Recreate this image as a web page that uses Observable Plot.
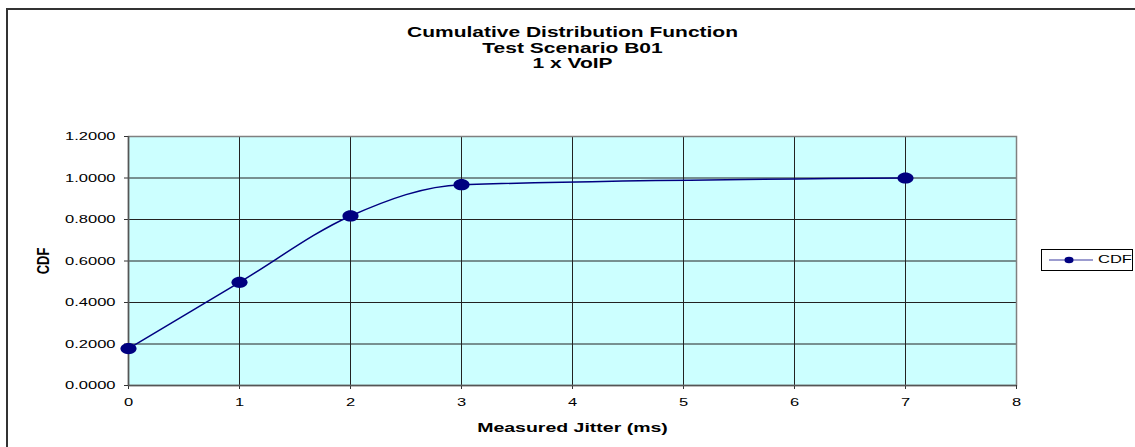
<!DOCTYPE html>
<html>
<head>
<meta charset="utf-8">
<script src="https://cdn.jsdelivr.net/npm/d3@7"></script>
<script src="https://cdn.jsdelivr.net/npm/@observablehq/plot@0.6"></script>
<style>
  html, body { margin: 0; padding: 0; background: #fff; overflow: hidden; }
  #wrap { position: relative; width: 1135px; height: 447px; font-family: "Liberation Sans", Arial, sans-serif; }
  #outer { position: absolute; left: 6px; top: 8px; width: 1200px; height: 500px;
           border-top: 2px solid #333; border-left: 2px solid #333; box-sizing: border-box; }
  #chart { position: absolute; left: 0; top: 0; }
  #chart svg g[aria-label="x-axis label"] text { font-weight: bold; font-size: 13px; }
  #chart svg g[aria-label="y-axis label"] text { font-weight: bold; font-size: 13px; }
  #legend { position: absolute; left: 1041px; top: 249px; width: 92px; height: 22px;
            border: 1px solid #000; background: #fff; box-sizing: border-box; }
  #legend svg { position: absolute; left: 0; top: 0; }
  #legend span { position: absolute; left: 56px; top: 3px; font-size: 11px; color: #000;
                 transform: scaleX(1.5); transform-origin: left center; }
</style>
</head>
<body>
<div id="wrap">
  <div id="outer"></div>
  <div id="chart"></div>
  <div id="legend">
    <svg width="54" height="20"><line x1="7" x2="51" y1="10" y2="10" stroke="#3a3aa0" stroke-width="1.2"/><ellipse cx="27" cy="10" rx="4.5" ry="3.2" fill="#000080"/></svg>
    <span>CDF</span>
  </div>
</div>
<script>
// Measured jitter (ms) and its cumulative distribution
const jitter = [0, 1, 2, 3, 7];
const cdf = [0.178, 0.497, 0.817, 0.968, 1.0];
const xTicks = [0, 1, 2, 3, 4, 5, 6, 7, 8];
const yTicks = [0, 0.2, 0.4, 0.6, 0.8, 1.0, 1.2];
const titleLines = ["Cumulative Distribution Function", "Test Scenario B01", "1 x VoIP"];
const seriesName = "CDF";

const data = jitter.map((x, i) => ({x, y: cdf[i]}));

// text in this chart is drawn wide, stretched horizontally
const textStretch = 1.5;

// slightly wide elliptical marker
const ellipse = {
  draw(ctx, size) {
    const r = Math.sqrt(size / Math.PI);
    const rx = r * 1.15, ry = r * 0.8, k = 0.5523;
    ctx.moveTo(rx, 0);
    ctx.bezierCurveTo(rx, ry * k, rx * k, ry, 0, ry);
    ctx.bezierCurveTo(-rx * k, ry, -rx, ry * k, -rx, 0);
    ctx.bezierCurveTo(-rx, -ry * k, -rx * k, -ry, 0, -ry);
    ctx.bezierCurveTo(rx * k, -ry, rx, -ry * k, rx, 0);
    ctx.closePath();
  }
};

const chart = Plot.plot({
  width: 1135,
  height: 447,
  marginLeft: 128,
  marginRight: 119,
  marginTop: 136,
  marginBottom: 62,
  style: {fontFamily: "'Liberation Sans', Arial, sans-serif", fontSize: "11px", color: "#000", background: "transparent"},
  x: {domain: [0, 8]},
  y: {domain: [0, 1.2]},
  marks: [
    Plot.frame({fill: "#ccffff"}),
    Plot.gridX(xTicks, {stroke: "#222", strokeOpacity: 1}),
    Plot.gridY(yTicks, {stroke: "#222", strokeOpacity: 1}),
    Plot.frame({stroke: "#808080", strokeWidth: 1.5}),
    Plot.axisX(xTicks, {tickSize: 4, tickPadding: 9, tickFormat: d3.format("d"), stroke: "#333", fontSize: 11,
      label: "Measured Jitter (ms)", labelAnchor: "center", labelArrow: "none", labelOffset: 46}),
    Plot.axisY(yTicks, {tickSize: 4, tickPadding: 9, tickFormat: d3.format(".4f"), stroke: "#333", fontSize: 11,
      label: seriesName, labelAnchor: "center", labelArrow: "none", labelOffset: 92}),
    Plot.ruleY([0], {stroke: "#555", strokeWidth: 1.5}),
    Plot.ruleX([0], {stroke: "#555", strokeWidth: 1.5}),
    Plot.line(data, {x: "x", y: "y", curve: "monotone-x", stroke: "#000080", strokeWidth: 1.5}),
    Plot.dot(data, {x: "x", y: "y", r: 7, symbol: ellipse, fill: "#000080", stroke: "none"}),
    Plot.text([titleLines.join("\n")], {frameAnchor: "top", dy: -111, lineAnchor: "top",
      lineHeight: 1.13, fontSize: 14, fontWeight: "bold", fill: "#000"})
  ]
});
document.getElementById("chart").appendChild(chart);

// widen each label around its own anchor point
chart.querySelectorAll("text").forEach((t) => {
  const tr = t.getAttribute("transform") || "";
  if (tr.includes("rotate")) {
    // rotated label: widen in screen space, before its own translate/rotate
    const m = tr.match(/translate\(\s*([-\d.e]+)/);
    const tx = m ? parseFloat(m[1]) : 0;
    t.setAttribute("transform", `translate(${tx},0) scale(1.3,1) translate(${-tx},0) ${tr}`);
    return;
  }
  const ax = parseFloat(t.getAttribute("x")) || 0;
  t.setAttribute("transform", `${tr} translate(${ax},0) scale(${textStretch},1) translate(${-ax},0)`.trim());
});
</script>
</body>
</html>
